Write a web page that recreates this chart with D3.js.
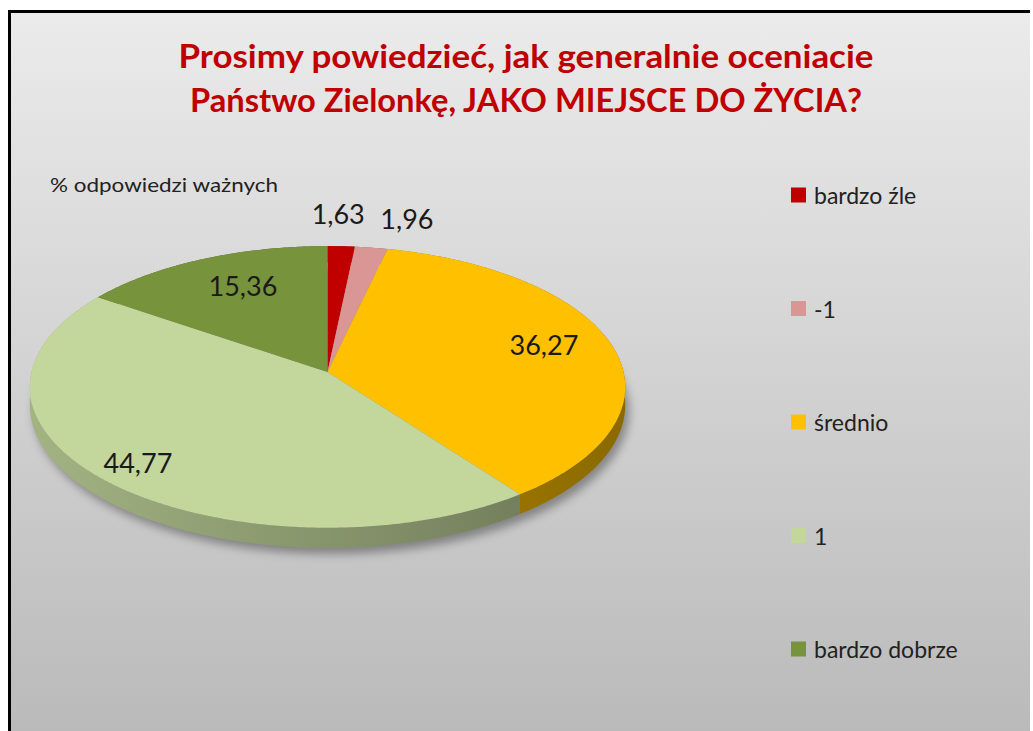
<!DOCTYPE html>
<html>
<head>
<meta charset="utf-8">
<script src="https://cdn.jsdelivr.net/npm/d3@7"></script>
<style>
  html, body { margin: 0; padding: 0; background: #ffffff; }
  svg { display: block; }
</style>
</head>
<body>
<svg id="chart" width="1033" height="731"></svg>
<script>
// Survey answers: how respondents rate Zielonka as a place to live (% of valid answers)
const categories = ["bardzo źle", "-1", "średnio", "1", "bardzo dobrze"];
const values = [1.63, 1.96, 36.27, 44.77, 15.36];
const valueLabels = ["1,63", "1,96", "36,27", "44,77", "15,36"];
const colors = ["#C00000", "#D99694", "#FFC000", "#C3D69B", "#77933C"];

const titleLines = ["Prosimy powiedzieć, jak generalnie oceniacie",
                    "Państwo Zielonkę, JAKO MIEJSCE DO ŻYCIA?"];
const subtitle = "% odpowiedzi ważnych";

// label placement: radius factor on the disc and pixel nudge
const labelRadius = [1.25, 1.25, 0.72, 0.86, 0.58];
const labelNudge = [[-6, -5], [26, -2], [11, -7], [0, -2], [-9, -19]];

const svg = d3.select("#chart");
const defs = svg.append("defs");

// background panel
const bg = defs.append("linearGradient").attr("id", "bg")
  .attr("x1", 0).attr("y1", 0).attr("x2", 0).attr("y2", 1);
bg.append("stop").attr("offset", "0%").attr("stop-color", "#ebebeb");
bg.append("stop").attr("offset", "100%").attr("stop-color", "#bababa");

svg.append("rect").attr("x", 9).attr("y", 11).attr("width", 1021).attr("height", 720)
  .attr("fill", "url(#bg)");
svg.append("path").attr("d", "M9.5,731 V11.5 H1030")
  .attr("fill", "none").attr("stroke", "#000").attr("stroke-width", 3);

// title (narrowed to the width of the original condensed face)
const title = svg.append("g").attr("fill", "#C00000")
  .attr("font-family", "Lato, 'Open Sans', sans-serif").attr("font-weight", "bold")
  .attr("text-anchor", "middle");
const titleTargets = [[526, 68, 695], [526, 112, 672]];
titleLines.forEach((t, i) => {
  title.append("text").attr("x", titleTargets[i][0]).attr("y", titleTargets[i][1])
    .attr("font-size", 33).attr("textLength", titleTargets[i][2])
    .attr("lengthAdjust", "spacingAndGlyphs").text(t);
});

// subtitle
svg.append("text").attr("x", 50).attr("y", 192)
  .attr("font-family", "Lato, 'Open Sans', sans-serif").attr("font-size", 20)
  .attr("textLength", 228).attr("lengthAdjust", "spacingAndGlyphs")
  .attr("fill", "#222").text(subtitle);

// tilted-disc projection with a little perspective
const P = { cx: 327.5, rx: 296, y0: 372, a: 99.8, c: -0.106, depth: 18 };
function proj(angle, r, drop) {
  const u = r * Math.sin(angle), v = -r * Math.cos(angle);
  const w = 1 + P.c * v;
  return [P.cx + P.rx * u / w, (P.a * v + P.y0 + (drop || 0)) / w];
}
function arcPts(a0, a1, r, drop) {
  const n = Math.max(2, Math.ceil(Math.abs(a1 - a0) / 0.01));
  return d3.range(n + 1).map(i => proj(a0 + (a1 - a0) * i / n, r, drop));
}
const line = d3.line();

const pie = d3.pie().sort(null).value(d => d)(values);

// drop shadow under the disc
const shadowF = defs.append("filter").attr("id", "shadow")
  .attr("x", "-10%").attr("y", "-10%").attr("width", "120%").attr("height", "130%");
shadowF.append("feGaussianBlur").attr("stdDeviation", 5);
svg.append("path")
  .attr("d", line(arcPts(0, 2 * Math.PI, 1, P.depth)) + "Z")
  .attr("transform", "translate(4,6)")
  .attr("fill", "rgba(0,0,0,0.35)").attr("filter", "url(#shadow)");

// side walls, shaded left-to-right
pie.forEach((d, i) => {
  const base = d3.rgb(colors[i]);
  const g = defs.append("linearGradient").attr("id", "side" + i)
    .attr("gradientUnits", "userSpaceOnUse")
    .attr("x1", 30).attr("y1", 0).attr("x2", 625).attr("y2", 0);
  g.append("stop").attr("offset", "0%").attr("stop-color", base.darker(0.5));
  g.append("stop").attr("offset", "100%").attr("stop-color", base.darker(1.7));
  const top = arcPts(d.startAngle, d.endAngle, 1, 0);
  const bottom = arcPts(d.startAngle, d.endAngle, 1, P.depth).reverse();
  svg.append("path").attr("d", line(top.concat(bottom)) + "Z")
    .attr("fill", "url(#side" + i + ")");
});

// top faces
pie.forEach((d, i) => {
  const pts = [proj(0, 0, 0)].concat(arcPts(d.startAngle, d.endAngle, 1, 0));
  svg.append("path").attr("d", line(pts) + "Z").attr("fill", colors[i]);
});

// value labels
pie.forEach((d, i) => {
  const mid = (d.startAngle + d.endAngle) / 2;
  const p = proj(mid, labelRadius[i], 0);
  svg.append("text")
    .attr("x", p[0] + labelNudge[i][0]).attr("y", p[1] + labelNudge[i][1])
    .attr("text-anchor", "middle").attr("dominant-baseline", "central")
    .attr("font-family", "Lato, 'Open Sans', sans-serif").attr("font-size", 27)
    .attr("fill", "#1a1a1a").text(valueLabels[i]);
});

// legend
const legendY = d3.scalePoint().domain(categories).range([195, 649]);
const legend = svg.append("g");
categories.forEach((c, i) => {
  const y = legendY(c);
  legend.append("rect").attr("x", 791).attr("y", y - 7.5).attr("width", 15).attr("height", 15)
    .attr("fill", colors[i]);
  legend.append("text").attr("x", 814).attr("y", y).attr("dominant-baseline", "central")
    .attr("font-family", "Lato, 'Open Sans', sans-serif").attr("font-size", 23)
    .attr("fill", "#222").text(c);
});
</script>
</body>
</html>
